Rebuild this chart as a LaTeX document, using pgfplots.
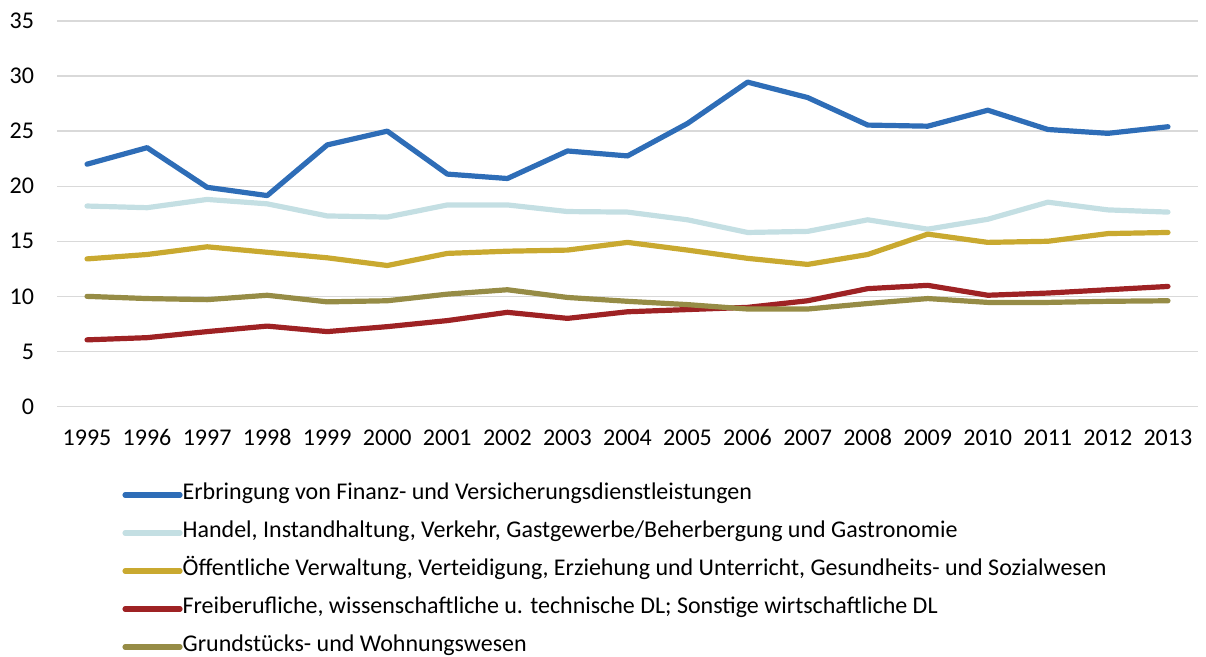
\documentclass[border=0pt]{standalone}
\usepackage{fontspec}
\setmainfont{Carlito}
\usepackage{pgfplots}
\pgfplotsset{compat=1.18}
\definecolor{cfin}{HTML}{2E6DB7}
\definecolor{chan}{HTML}{C4DFE3}
\definecolor{coef}{HTML}{C9A930}
\definecolor{cfre}{HTML}{9E2224}
\definecolor{cgru}{HTML}{968C46}
\definecolor{cgrid}{HTML}{D9D9D9}
\begin{document}
\begin{tikzpicture}[font=\fontsize{12}{14.4}\selectfont]
\begin{axis}[
    scale only axis,
    width=570.5pt, height=192.75pt,
    xmin=1994.5, xmax=2013.5,
    ymin=0, ymax=35,
    xtick={1995,...,2013},
    ytick={0,5,...,35},
    /pgf/number format/assume math mode=true,
    xticklabel={\pgfmathprintnumber[1000 sep={}]{\tick}},
    yticklabel style={xshift=-8pt},
    xticklabel style={yshift=-8pt},
    axis line style={draw=none},
    tick style={draw=none},
    ymajorgrids=true,
    grid style={cgrid, line width=0.7pt},
    every axis plot/.append style={line width=2.6pt, line join=round, line cap=round},
    legend cell align=left,
    legend style={at={(0.057,-0.2)}, anchor=north west, draw=none, inner sep=0pt,
        row sep=8pt, nodes={inner sep=0pt, text height=8pt, text depth=3pt, xshift=2.5pt}},
    legend image code/.code={\draw[#1] (0pt,0pt) -- (27.5pt,0pt);},
]
\addplot[cfin] coordinates {(1995,22.0) (1996,23.5) (1997,19.9) (1998,19.15) (1999,23.75) (2000,25.0) (2001,21.1) (2002,20.7) (2003,23.2) (2004,22.75) (2005,25.7) (2006,29.45) (2007,28.05) (2008,25.55) (2009,25.45) (2010,26.9) (2011,25.15) (2012,24.8) (2013,25.4)};
\addlegendentry{Erbringung von Finanz- und Versicherungsdienstleistungen}
\addplot[chan] coordinates {(1995,18.2) (1996,18.05) (1997,18.8) (1998,18.4) (1999,17.3) (2000,17.2) (2001,18.3) (2002,18.3) (2003,17.7) (2004,17.65) (2005,16.95) (2006,15.8) (2007,15.9) (2008,16.95) (2009,16.1) (2010,17.0) (2011,18.55) (2012,17.85) (2013,17.65)};
\addlegendentry{Handel, Instandhaltung, Verkehr, Gastgewerbe/Beherbergung und Gastronomie}
\addplot[coef] coordinates {(1995,13.4) (1996,13.8) (1997,14.5) (1998,14.0) (1999,13.5) (2000,12.8) (2001,13.9) (2002,14.1) (2003,14.2) (2004,14.9) (2005,14.2) (2006,13.45) (2007,12.9) (2008,13.8) (2009,15.65) (2010,14.9) (2011,15.0) (2012,15.7) (2013,15.8)};
\addlegendentry{Öffentliche Verwaltung, Verteidigung, Erziehung und Unterricht, Gesundheits- und Sozialwesen}
\addplot[cfre] coordinates {(1995,6.05) (1996,6.25) (1997,6.8) (1998,7.3) (1999,6.8) (2000,7.25) (2001,7.8) (2002,8.55) (2003,8.0) (2004,8.6) (2005,8.8) (2006,9.0) (2007,9.6) (2008,10.7) (2009,11.0) (2010,10.1) (2011,10.3) (2012,10.6) (2013,10.9)};
\addlegendentry{Freiberufliche, wissenschaftliche u. technische DL; Sonstige wirtschaftliche DL}
\addplot[cgru] coordinates {(1995,10.0) (1996,9.8) (1997,9.7) (1998,10.1) (1999,9.5) (2000,9.6) (2001,10.2) (2002,10.6) (2003,9.9) (2004,9.55) (2005,9.25) (2006,8.85) (2007,8.85) (2008,9.35) (2009,9.8) (2010,9.45) (2011,9.45) (2012,9.55) (2013,9.6)};
\addlegendentry{Grundstücks- und Wohnungswesen}
\end{axis}
\pgfresetboundingbox
\path[use as bounding box] (-28.5pt,-125.25pt) rectangle (574.5pt,203.25pt);
\end{tikzpicture}
\end{document}
